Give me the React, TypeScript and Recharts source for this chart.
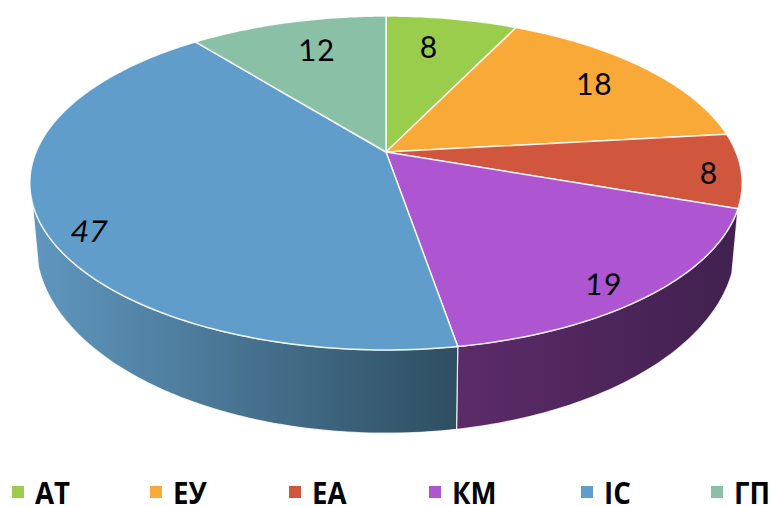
import React from "react";
import { PieChart, Pie, Legend } from "recharts";

const categories = ["АТ", "ЕУ", "ЕА", "КМ", "ІС", "ГП"];
const values = [8, 18, 8, 19, 47, 12];
const colors = ["#9ACD4C", "#F9A937", "#D0573D", "#AE55D1", "#619DCB", "#89C0A6"];

const tableData = categories.map((name, i) => ({ name, value: values[i], fill: colors[i] }));

// Perspective parameters of the tilted disc
const CX = 386;
const CY = 152;
const RADIUS = 150;
const PERSPECTIVE = 0.1856;
const TOP_RX = 350;
const TOP_RY = 161.2;
const BASE_RX = 344;
const BASE_RY = 182.6;
const BASE_CY = 209;
const WALL_START = 109.3;
const WALL_END = 252.6;

const wallGradients: Record<number, [string, string]> = {
  3: ["#5C2B69", "#40214E"],
  4: ["#6097BF", "#2E4E61"],
};
const labelNudge: [number, number][] = [
  [-11.5, 4],
  [-2, 0],
  [40, 5],
  [14, 20],
  [-24, 22],
  [12, 4],
];
const labelSkew = [0, 0, 0, -3, -9, 3];
const legendX = [12, 150, 289, 429, 581, 711];

const project = (thetaDeg: number, r = 1, rx = TOP_RX, ry = TOP_RY, cy = CY): [number, number] => {
  const t = (thetaDeg * Math.PI) / 180;
  const u = r * Math.sin(t);
  const v = r * Math.cos(t);
  const d = 1 + PERSPECTIVE * v;
  return [CX + (rx * u) / d, cy - (ry * v) / d];
};

const arc = (from: number, to: number, rx: number, ry: number, cy: number) => {
  const pts: [number, number][] = [];
  const n = Math.max(2, Math.ceil(Math.abs(to - from)));
  for (let i = 0; i <= n; i++) pts.push(project(from + ((to - from) * i) / n, 1, rx, ry, cy));
  return pts;
};
const toPath = (pts: [number, number][]) =>
  pts.map((p, i) => `${i ? "L" : "M"}${p[0].toFixed(2)} ${p[1].toFixed(2)}`).join(" ") + " Z";

const DiscSector = (props: any) => {
  const { startAngle, endAngle, fill, index } = props;
  const s = 90 - startAngle;
  const e = 90 - endAngle;
  const lo = Math.max(s, WALL_START);
  const hi = Math.min(e, WALL_END);
  const grad = wallGradients[index];
  const top: [number, number][] = [[CX, CY], ...arc(s, e, TOP_RX, TOP_RY, CY)];
  return (
    <g>
      {lo < hi && grad ? (
        <>
          <defs>
            <linearGradient id={`wall-${index}`} x1="0" y1="0" x2="1" y2="0">
              <stop offset="0%" stopColor={grad[0]} />
              <stop offset="100%" stopColor={grad[1]} />
            </linearGradient>
          </defs>
          <path
            d={toPath([...arc(lo, hi, TOP_RX, TOP_RY, CY), ...arc(hi, lo, BASE_RX, BASE_RY, BASE_CY)])}
            fill={`url(#wall-${index})`}
            stroke="#ffffff"
            strokeOpacity={0.8}
            strokeWidth={1.2}
          />
        </>
      ) : null}
      <path d={toPath(top)} fill={fill} stroke="#ffffff" strokeOpacity={0.85} strokeWidth={1.5} strokeLinejoin="round" />
    </g>
  );
};

const renderLabel = (props: any) => {
  const { midAngle, value, index } = props;
  const [x, y] = project(90 - midAngle, 0.8);
  const px = x + labelNudge[index][0];
  const py = y + labelNudge[index][1];
  return (
    <text
      x={0}
      y={0}
      transform={`translate(${px} ${py}) skewX(${labelSkew[index]})`}
      textAnchor="middle"
      dominantBaseline="central"
      fontFamily="Lato"
      fontSize={30}
      fill="#000000"
      letterSpacing={1}
    >
      {value}
    </text>
  );
};

const LegendRow = ({ payload }: any) => (
  <div style={{ position: "relative", width: 771, height: 26 }}>
    {(payload || []).map((item: any, i: number) => (
      <React.Fragment key={item.value}>
        <span
          style={{
            position: "absolute",
            left: legendX[i],
            top: 6,
            width: 12,
            height: 12,
            background: item.color,
          }}
        />
        <span
          style={{
            position: "absolute",
            left: legendX[i] + 23,
            top: 0,
            fontFamily: "'Open Sans'",
            fontWeight: 700,
            fontSize: 30,
            lineHeight: "26px",
            color: "#000",
            transform: "scaleX(0.92)",
            transformOrigin: "left",
          }}
        >
          {item.value}
        </span>
      </React.Fragment>
    ))}
  </div>
);

export default function App() {
  return (
    <div style={{ position: "absolute", left: 0, top: 0, width: 771, height: 506, background: "#fff" }}>
      <PieChart width={771} height={506} margin={{ top: 0, right: 0, bottom: 0, left: 0 }}>
        <Pie
          data={tableData}
          dataKey="value"
          nameKey="name"
          cx={CX}
          cy={CY}
          outerRadius={RADIUS}
          startAngle={90}
          endAngle={-270}
          isAnimationActive={false}
          shape={DiscSector}
          label={renderLabel}
          labelLine={false}
        />
        <Legend
          content={LegendRow}
          itemSorter={null}
          wrapperStyle={{ position: "absolute", left: 0, top: 480, width: 771, height: 26, bottom: "auto" }}
        />
      </PieChart>
    </div>
  );
}
